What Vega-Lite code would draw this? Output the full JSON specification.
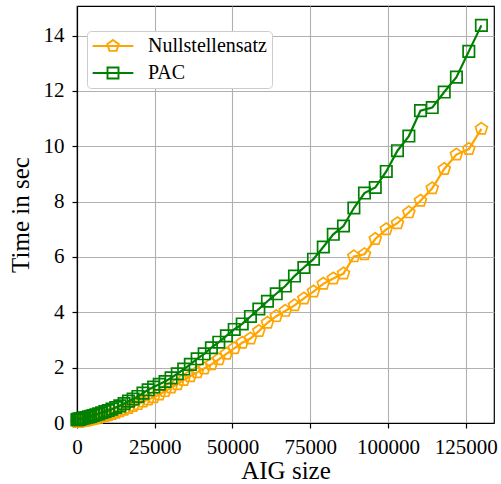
{
  "$schema": "https://vega.github.io/schema/vega-lite/v6.json",
  "width": 417,
  "height": 417,
  "autosize": {"type": "none"},
  "padding": {"left": 77, "top": 6, "right": 7, "bottom": 61},
  "background": "white",
  "datasets": {
    "rows": [
      {"s": "Nullstellensatz", "x": 16, "t": 0.03}, {"s": "Nullstellensatz", "x": 96, "t": 0.03}, {"s": "Nullstellensatz", "x": 240, "t": 0.04}, {"s": "Nullstellensatz", "x": 448, "t": 0.04},
      {"s": "Nullstellensatz", "x": 720, "t": 0.05}, {"s": "Nullstellensatz", "x": 1056, "t": 0.05}, {"s": "Nullstellensatz", "x": 1456, "t": 0.06}, {"s": "Nullstellensatz", "x": 1920, "t": 0.07},
      {"s": "Nullstellensatz", "x": 2448, "t": 0.08}, {"s": "Nullstellensatz", "x": 3040, "t": 0.09}, {"s": "Nullstellensatz", "x": 3696, "t": 0.10}, {"s": "Nullstellensatz", "x": 4416, "t": 0.12},
      {"s": "Nullstellensatz", "x": 5200, "t": 0.14}, {"s": "Nullstellensatz", "x": 6048, "t": 0.16}, {"s": "Nullstellensatz", "x": 6960, "t": 0.19}, {"s": "Nullstellensatz", "x": 7936, "t": 0.22},
      {"s": "Nullstellensatz", "x": 8976, "t": 0.25}, {"s": "Nullstellensatz", "x": 10080, "t": 0.28}, {"s": "Nullstellensatz", "x": 11248, "t": 0.32}, {"s": "Nullstellensatz", "x": 12480, "t": 0.37},
      {"s": "Nullstellensatz", "x": 13776, "t": 0.42}, {"s": "Nullstellensatz", "x": 15136, "t": 0.48}, {"s": "Nullstellensatz", "x": 16560, "t": 0.54}, {"s": "Nullstellensatz", "x": 18048, "t": 0.61},
      {"s": "Nullstellensatz", "x": 19600, "t": 0.68}, {"s": "Nullstellensatz", "x": 21216, "t": 0.77}, {"s": "Nullstellensatz", "x": 22896, "t": 0.85}, {"s": "Nullstellensatz", "x": 24640, "t": 0.93},
      {"s": "Nullstellensatz", "x": 26448, "t": 1.03}, {"s": "Nullstellensatz", "x": 28320, "t": 1.15}, {"s": "Nullstellensatz", "x": 30256, "t": 1.28}, {"s": "Nullstellensatz", "x": 32256, "t": 1.40},
      {"s": "Nullstellensatz", "x": 34320, "t": 1.55}, {"s": "Nullstellensatz", "x": 36448, "t": 1.69}, {"s": "Nullstellensatz", "x": 38640, "t": 1.83}, {"s": "Nullstellensatz", "x": 40896, "t": 1.97},
      {"s": "Nullstellensatz", "x": 43216, "t": 2.12}, {"s": "Nullstellensatz", "x": 45600, "t": 2.30}, {"s": "Nullstellensatz", "x": 48048, "t": 2.50}, {"s": "Nullstellensatz", "x": 50560, "t": 2.70},
      {"s": "Nullstellensatz", "x": 53136, "t": 2.90}, {"s": "Nullstellensatz", "x": 55776, "t": 3.05}, {"s": "Nullstellensatz", "x": 58480, "t": 3.32}, {"s": "Nullstellensatz", "x": 61248, "t": 3.62},
      {"s": "Nullstellensatz", "x": 64080, "t": 3.86}, {"s": "Nullstellensatz", "x": 66976, "t": 4.05}, {"s": "Nullstellensatz", "x": 69936, "t": 4.25}, {"s": "Nullstellensatz", "x": 72960, "t": 4.50},
      {"s": "Nullstellensatz", "x": 76048, "t": 4.75}, {"s": "Nullstellensatz", "x": 79200, "t": 5.03}, {"s": "Nullstellensatz", "x": 82416, "t": 5.22}, {"s": "Nullstellensatz", "x": 85696, "t": 5.40},
      {"s": "Nullstellensatz", "x": 89040, "t": 6.02}, {"s": "Nullstellensatz", "x": 92448, "t": 6.10}, {"s": "Nullstellensatz", "x": 95920, "t": 6.65}, {"s": "Nullstellensatz", "x": 99456, "t": 7.00},
      {"s": "Nullstellensatz", "x": 103056, "t": 7.22}, {"s": "Nullstellensatz", "x": 106720, "t": 7.61}, {"s": "Nullstellensatz", "x": 110464, "t": 8.03}, {"s": "Nullstellensatz", "x": 114240, "t": 8.48},
      {"s": "Nullstellensatz", "x": 118096, "t": 9.18}, {"s": "Nullstellensatz", "x": 122016, "t": 9.70}, {"s": "Nullstellensatz", "x": 126000, "t": 9.90}, {"s": "Nullstellensatz", "x": 130048, "t": 10.63},
      {"s": "PAC", "x": 16, "t": 0.12}, {"s": "PAC", "x": 96, "t": 0.12}, {"s": "PAC", "x": 240, "t": 0.13}, {"s": "PAC", "x": 448, "t": 0.13},
      {"s": "PAC", "x": 720, "t": 0.14}, {"s": "PAC", "x": 1056, "t": 0.15}, {"s": "PAC", "x": 1456, "t": 0.16}, {"s": "PAC", "x": 1920, "t": 0.17},
      {"s": "PAC", "x": 2448, "t": 0.19}, {"s": "PAC", "x": 3040, "t": 0.20}, {"s": "PAC", "x": 3696, "t": 0.22}, {"s": "PAC", "x": 4416, "t": 0.24},
      {"s": "PAC", "x": 5200, "t": 0.27}, {"s": "PAC", "x": 6048, "t": 0.30}, {"s": "PAC", "x": 6960, "t": 0.33}, {"s": "PAC", "x": 7936, "t": 0.37},
      {"s": "PAC", "x": 8976, "t": 0.41}, {"s": "PAC", "x": 10080, "t": 0.45}, {"s": "PAC", "x": 11248, "t": 0.50}, {"s": "PAC", "x": 12480, "t": 0.56},
      {"s": "PAC", "x": 13776, "t": 0.62}, {"s": "PAC", "x": 15136, "t": 0.70}, {"s": "PAC", "x": 16560, "t": 0.79}, {"s": "PAC", "x": 18048, "t": 0.87},
      {"s": "PAC", "x": 19600, "t": 0.96}, {"s": "PAC", "x": 21216, "t": 1.08}, {"s": "PAC", "x": 22896, "t": 1.20}, {"s": "PAC", "x": 24640, "t": 1.30},
      {"s": "PAC", "x": 26448, "t": 1.40}, {"s": "PAC", "x": 28320, "t": 1.50}, {"s": "PAC", "x": 30256, "t": 1.63}, {"s": "PAC", "x": 32256, "t": 1.78},
      {"s": "PAC", "x": 34320, "t": 1.95}, {"s": "PAC", "x": 36448, "t": 2.12}, {"s": "PAC", "x": 38640, "t": 2.32}, {"s": "PAC", "x": 40896, "t": 2.50},
      {"s": "PAC", "x": 43216, "t": 2.72}, {"s": "PAC", "x": 45600, "t": 2.92}, {"s": "PAC", "x": 48048, "t": 3.15}, {"s": "PAC", "x": 50560, "t": 3.38},
      {"s": "PAC", "x": 53136, "t": 3.58}, {"s": "PAC", "x": 55776, "t": 3.85}, {"s": "PAC", "x": 58480, "t": 4.12}, {"s": "PAC", "x": 61248, "t": 4.40},
      {"s": "PAC", "x": 64080, "t": 4.67}, {"s": "PAC", "x": 66976, "t": 4.95}, {"s": "PAC", "x": 69936, "t": 5.31}, {"s": "PAC", "x": 72960, "t": 5.62},
      {"s": "PAC", "x": 76048, "t": 5.92}, {"s": "PAC", "x": 79200, "t": 6.36}, {"s": "PAC", "x": 82416, "t": 6.82}, {"s": "PAC", "x": 85696, "t": 7.12},
      {"s": "PAC", "x": 89040, "t": 7.77}, {"s": "PAC", "x": 92448, "t": 8.31}, {"s": "PAC", "x": 95920, "t": 8.51}, {"s": "PAC", "x": 99456, "t": 9.09},
      {"s": "PAC", "x": 103056, "t": 9.84}, {"s": "PAC", "x": 106720, "t": 10.37}, {"s": "PAC", "x": 110464, "t": 11.29}, {"s": "PAC", "x": 114240, "t": 11.40},
      {"s": "PAC", "x": 118096, "t": 11.96}, {"s": "PAC", "x": 122016, "t": 12.50}, {"s": "PAC", "x": 126000, "t": 13.43}, {"s": "PAC", "x": 130048, "t": 14.37}
    ]
  },
  "data": {"name": "rows"},
  "encoding": {
    "x": {
      "field": "x", "type": "quantitative",
      "scale": {"domain": [0, 134100], "nice": false, "zero": false},
      "axis": {"values": [0, 25000, 50000, 75000, 100000, 125000], "format": "d", "title": "AIG size", "labelPadding": 8, "titlePadding": 1, "labelFlush": false}
    },
    "y": {
      "field": "t", "type": "quantitative",
      "scale": {"domain": [0, 15.07], "nice": false, "zero": false},
      "axis": {"values": [0, 2, 4, 6, 8, 10, 12, 14], "title": "Time in sec", "labelPadding": 8, "titlePadding": 10}
    }
  },
  "layer": [
    {
      "transform": [{"filter": "datum.s === 'Nullstellensatz'"}],
      "mark": {"type": "line", "color": "orange", "strokeWidth": 2.2}
    },
    {
      "transform": [{"filter": "datum.s === 'Nullstellensatz'"}],
      "mark": {"type": "point", "filled": false, "color": "orange", "strokeWidth": 1.7, "size": 130, "opacity": 1, "shape": "M0,-1.1L1.046,-0.34L0.647,0.89L-0.647,0.89L-1.046,-0.34Z"}
    },
    {
      "transform": [{"filter": "datum.s === 'PAC'"}],
      "mark": {"type": "line", "color": "green", "strokeWidth": 2.2}
    },
    {
      "transform": [{"filter": "datum.s === 'PAC'"}],
      "mark": {"type": "point", "filled": false, "color": "green", "strokeWidth": 1.7, "size": 130, "opacity": 1, "shape": "M-1,-1H1V1H-1Z"}
    },
    {
      "mark": {"type": "point", "filled": false, "strokeWidth": 1.9, "size": 121, "opacity": 0},
      "encoding": {
        "color": {
          "field": "s", "type": "nominal",
          "scale": {"domain": ["Nullstellensatz", "PAC"], "range": ["orange", "green"]},
          "legend": {
            "title": null,
            "orient": "none",
            "legendX": 10,
            "legendY": 25,
            "values": ["Nullstellensatz", "PAC"]
          }
        },
        "shape": {
          "field": "s", "type": "nominal",
          "scale": {"domain": ["Nullstellensatz", "PAC"], "range": ["M-3.7,0H3.7M0,-1.1L1.046,-0.34L0.647,0.89L-0.647,0.89L-1.046,-0.34Z", "M-3.7,0H3.7M-1,-1H1V1H-1Z"]},
          "legend": {
            "title": null,
            "orient": "none",
            "legendX": 10,
            "legendY": 25,
            "values": ["Nullstellensatz", "PAC"]
          }
        }
      }
    }
  ],
  "config": {
    "font": "Liberation Serif",
    "view": {"stroke": "black", "strokeWidth": 1.2},
    "axis": {
      "grid": true, "gridColor": "#b0b0b0", "gridWidth": 1.1, "gridOpacity": 1,
      "domainColor": "black", "domainWidth": 1.2,
      "tickColor": "black", "tickWidth": 1.2, "tickSize": 5,
      "labelColor": "black", "labelFontSize": 21,
      "titleColor": "black", "titleFontSize": 25, "titleFontWeight": "normal"
    },
    "legend": {
      "strokeColor": "#cccccc", "fillColor": "white", "cornerRadius": 4, "padding": 5,
      "labelFontSize": 20, "labelColor": "black", "symbolSize": 121, "symbolStrokeWidth": 1.9, "symbolOpacity": 1,
      "symbolOffset": 11, "labelOffset": 25, "rowPadding": 7
    }
  }
}
